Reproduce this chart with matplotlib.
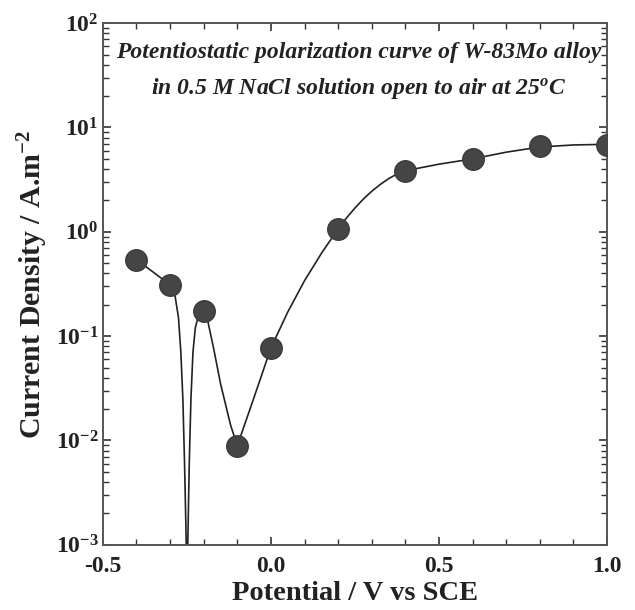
import matplotlib
matplotlib.use("Agg")
import matplotlib.pyplot as plt
from matplotlib.ticker import LogLocator, MultipleLocator, FixedLocator, NullFormatter

plt.rcParams['font.family'] = ['Liberation Serif', 'DejaVu Serif']
plt.rcParams['font.weight'] = 'bold'
plt.rcParams['mathtext.fontset'] = 'custom'
plt.rcParams['mathtext.rm'] = 'Liberation Serif:bold'
plt.rcParams['mathtext.it'] = 'Liberation Serif:italic:bold'
plt.rcParams['mathtext.bf'] = 'Liberation Serif:bold'

# measured points
potential = [-0.4, -0.3, -0.2, -0.1, 0.0, 0.2, 0.4, 0.6, 0.8, 1.0]
current = [0.54, 0.31, 0.175, 0.0089, 0.077, 1.07, 3.8, 5.0, 6.7, 6.8]

# fitted line
curve_x = [-0.4, -0.35, -0.3, -0.285, -0.275, -0.268, -0.262, -0.257, -0.253, -0.25,
           -0.247, -0.243, -0.238, -0.232, -0.225, -0.215, -0.2, -0.19, -0.17, -0.15,
           -0.12, -0.1, -0.05, 0.0, 0.05, 0.1, 0.15, 0.2, 0.225, 0.25, 0.275, 0.3,
           0.325, 0.35, 0.375, 0.4, 0.5, 0.6, 0.7, 0.8, 0.9, 1.0]
curve_y = [0.54, 0.41, 0.31, 0.24, 0.15, 0.07, 0.025, 0.006, 0.0015, 0.0004,
           0.0012, 0.006, 0.025, 0.07, 0.12, 0.16, 0.175, 0.15, 0.075, 0.035,
           0.014, 0.0089, 0.026, 0.077, 0.17, 0.34, 0.62, 1.07, 1.36, 1.69, 2.06, 2.45,
           2.84, 3.23, 3.58, 3.85, 4.45, 5.0, 5.8, 6.5, 6.8, 6.9]

fig = plt.figure(figsize=(6.35, 6.1), dpi=100)
ax = fig.add_axes([0.162, 0.107, 0.794, 0.855])

ax.plot(curve_x, curve_y, color='#222222', linewidth=1.2, zorder=2)
ax.plot(potential, current, linestyle='none', marker='o', markersize=15.5,
        markerfacecolor='#454545', markeredgecolor='#3a3a3a', zorder=3)

ax.set_yscale('log')
ax.set_xlim(-0.5, 1.0)
ax.set_ylim(1e-3, 1e2)

ax.xaxis.set_major_locator(FixedLocator([-0.5, 0.0, 0.5, 1.0]))
ax.xaxis.set_minor_locator(MultipleLocator(0.1))
ax.xaxis.set_major_formatter(plt.FuncFormatter(lambda v, p: f"{v:.1f}"))
ax.yaxis.set_major_locator(LogLocator(base=10, numticks=10))
ax.yaxis.set_minor_locator(LogLocator(base=10, subs=range(2, 10), numticks=10))
ax.yaxis.set_minor_formatter(NullFormatter())

ax.tick_params(which='both', direction='in', top=True, right=True, colors='#333333')
ax.tick_params(which='major', length=6, width=1.2, labelsize=17, labelcolor='#222222')
ax.tick_params(axis='x', which='major', pad=8)
ax.tick_params(axis='y', which='major', pad=3)
ax.tick_params(which='minor', length=4, width=1.0)
for s in ax.spines.values():
    s.set_color('#555555')
    s.set_linewidth(1.4)

ax.set_xlabel('Potential / V vs SCE', fontsize=20.5, fontweight='bold', color='#222222', labelpad=3)
ax.set_ylabel('Current Density / A.m$^{-2}$', fontsize=21.5, fontweight='bold', color='#222222', labelpad=4)

ax.text(0.507, 0.943, 'Potentiostatic polarization curve of W-83Mo alloy',
        transform=ax.transAxes, ha='center', va='center', fontsize=17,
        style='italic', fontweight='bold', color='#222222')
ax.text(0.507, 0.875, 'in 0.5 M NaCl solution open to air at 25$^{o}$C',
        transform=ax.transAxes, ha='center', va='center', fontsize=17,
        style='italic', fontweight='bold', color='#222222')

fig.savefig('out.png', dpi=100, facecolor='white')
